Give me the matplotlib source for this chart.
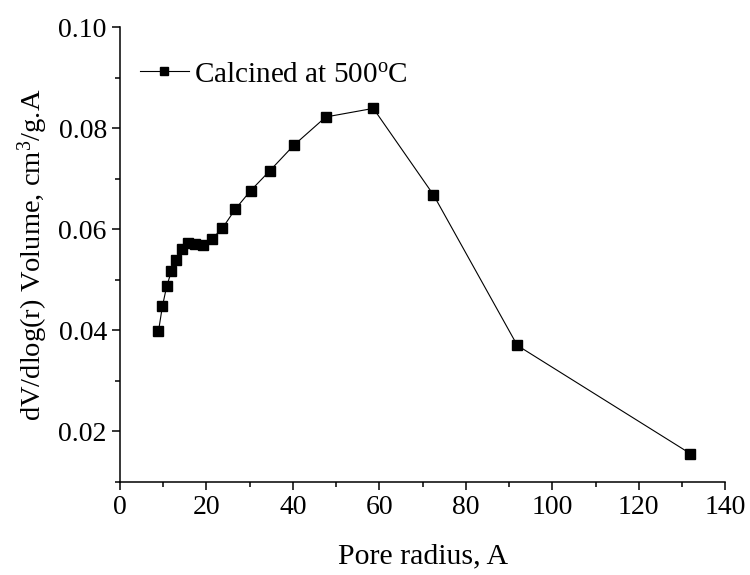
import matplotlib

matplotlib.use("Agg")
import matplotlib.pyplot as plt  # noqa: E402
from matplotlib.ticker import MultipleLocator, FormatStrFormatter  # noqa: E402

plt.rcParams["font.family"] = ["Liberation Serif", "DejaVu Serif"]
plt.rcParams["mathtext.fontset"] = "custom"
plt.rcParams["mathtext.rm"] = "Liberation Serif"
plt.rcParams["mathtext.it"] = "Liberation Serif:italic"

# pore size distribution
pore_radius = [8.9, 9.8, 10.8, 11.9, 13.0, 14.3, 15.8, 17.4, 19.2, 21.3, 23.7, 26.7,
               30.2, 34.7, 40.2, 47.6, 58.6, 72.5, 91.9, 131.9]
dv_dlogr = [0.0398, 0.0447, 0.0487, 0.0517, 0.0539, 0.0561, 0.0573, 0.0571, 0.0568,
            0.0581, 0.0602, 0.0640, 0.0676, 0.0716, 0.0766, 0.0822, 0.0839, 0.0668,
            0.0370, 0.0156]
series_label = r"Calcined at 500$^{\rm o}$C"

fig = plt.figure(figsize=(7.5, 5.75), dpi=100)
ax = fig.add_axes([0.16, 0.162, 0.807, 0.791])

ax.plot(pore_radius, dv_dlogr, color="black", lw=0.8, marker="s", ms=7.5,
        mfc="black", mec="black", label=series_label)

ax.set_xlim(0, 140)
ax.set_ylim(0.01, 0.10)
ax.xaxis.set_major_locator(MultipleLocator(20))
ax.xaxis.set_minor_locator(MultipleLocator(10))
ax.yaxis.set_major_locator(MultipleLocator(0.02))
ax.yaxis.set_minor_locator(MultipleLocator(0.01))
ax.yaxis.set_major_formatter(FormatStrFormatter("%.2f"))

for side in ("top", "right"):
    ax.spines[side].set_visible(False)
for side in ("left", "bottom"):
    ax.spines[side].set_linewidth(1.1)
ax.tick_params(which="major", direction="out", length=6, width=1.1, labelsize=20)
ax.tick_params(which="minor", direction="out", length=3.5, width=1.1)

ax.set_xlabel("Pore radius, A", fontsize=21.5, labelpad=17)
ax.set_ylabel(r"dV/dlog(r) Volume, cm$^3$/g.A", fontsize=20.5, labelpad=6)

ax.legend(loc="upper left", frameon=False, fontsize=21, handlelength=1.65,
          handletextpad=0.2, markerscale=0.75, borderaxespad=0.3,
          bbox_to_anchor=(0.0, 0.97))

fig.savefig("out.png", dpi=100)
